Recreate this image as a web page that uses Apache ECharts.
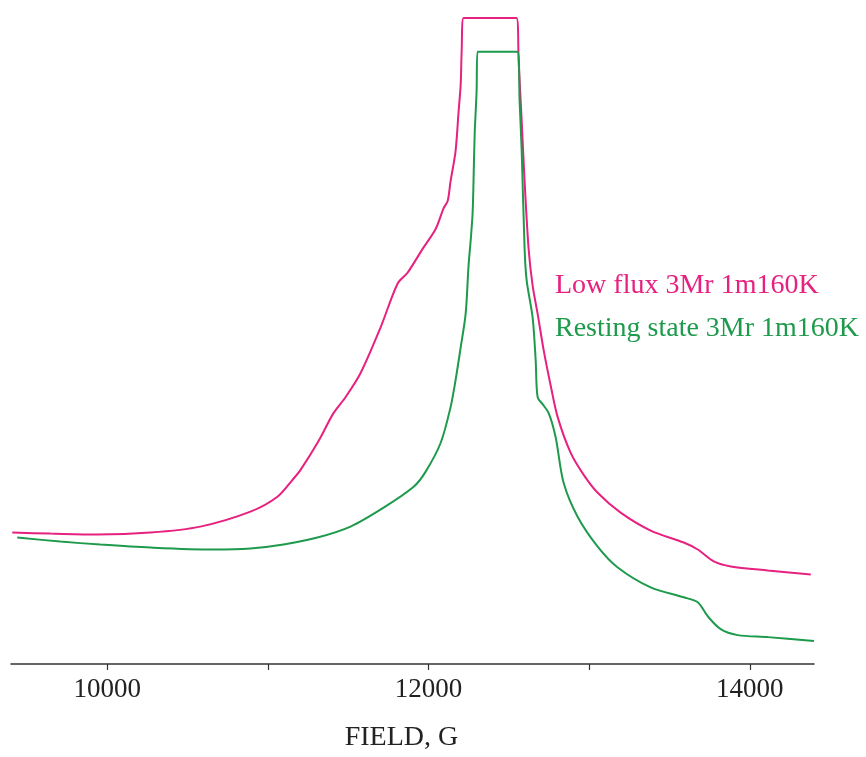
<!DOCTYPE html>
<html>
<head>
<meta charset="utf-8">
<script src="https://cdn.jsdelivr.net/npm/echarts@6/dist/echarts.min.js"></script>
<style>html,body{margin:0;padding:0;background:#fff}#c{width:866px;height:757px}</style>
</head>
<body>
<div id="c"></div>
<script>
// Field (G)
const lowFluxField = [9408,9645,9938,10268,10579,10891,11059,11153,11203,11315,11408,11483,11576,11701,11807,11869,11963,12044,12094,12119,12137,12168,12187,12200,12206,12218,12548,12561,12580,12598,12623,12648,12679,12717,12760,12804,12885,12966,13053,13196,13383,13589,13676,13776,13882,14112,14380];
// Intensity (arbitrary units)
const lowFluxSignal = [132,131,130,132,138,153,168,185,195,224,252,268,292,338,382,393,417,437,458,465,485,515,555,582,615,649,649,605,545,485,417,380,352,315,280,248,212,190,172,152,134,122,115,103,98,94,90];

const restingField = [9439,9707,9956,10268,10660,10891,11097,11308,11514,11720,11907,11981,12075,12137,12168,12200,12231,12249,12262,12274,12280,12287,12299,12305,12555,12567,12580,12598,12611,12648,12667,12679,12710,12748,12791,12841,12928,13053,13178,13383,13589,13676,13738,13819,13925,14112,14400];
const restingSignal = [127,123,120,117,115,116,120,127,138,157,178,193,222,258,285,318,352,400,425,452,485,532,575,615,615,565,515,417,385,348,305,268,261,252,228,182,148,118,97,77,67,62,48,35,29,27,23];

const seriesNames = ['Low flux 3Mr 1m160K', 'Resting state 3Mr 1m160K'];
const seriesColors = ['#E6217F', '#1E9A4C'];
const majorTicks = [10000, 11000, 12000, 13000, 14000];
const tickLabels = [10000, 12000, 14000];

const zip = (a, b) => a.map((v, i) => [v, b[i]]);

const chart = echarts.init(document.getElementById('c'), null, {renderer: 'canvas'});
chart.setOption({
  animation: false,
  backgroundColor: '#fff',
  grid: {left: 11, right: 52, top: 2, bottom: 90, containLabel: false},
  legend: {
    orient: 'vertical',
    left: 545,
    top: 267,
    icon: 'none',
    itemWidth: 0,
    itemGap: 15,
    selectedMode: false,
    textStyle: {fontFamily: 'Liberation Serif', fontSize: 28},
    data: seriesNames.map((n, i) => ({name: n, textStyle: {color: seriesColors[i]}}))
  },
  xAxis: {
    type: 'value',
    min: 9400,
    max: 14400,
    name: 'FIELD, G',
    nameLocation: 'middle',
    nameGap: 60,
    nameTextStyle: {fontFamily: 'Liberation Serif', fontSize: 28, color: '#222', padding: [0, 22, 0, 0]},
    axisLine: {show: true, lineStyle: {color: '#333', width: 1.5}},
    axisTick: {show: true, inside: false, length: 6, customValues: majorTicks, lineStyle: {color: '#333', width: 1.2}},
    axisLabel: {customValues: tickLabels, margin: 12, fontFamily: 'Liberation Serif', fontSize: 27, color: '#222',
                formatter: v => String(v)},
    splitLine: {show: false}
  },
  yAxis: {
    type: 'value', min: 0, max: 665, show: false, splitLine: {show: false}
  },
  series: [
    {name: seriesNames[0], type: 'line', data: zip(lowFluxField, lowFluxSignal), showSymbol: false, symbol: 'none',
     smooth: 0.3,
     lineStyle: {color: seriesColors[0], width: 2}, itemStyle: {color: seriesColors[0]}},
    {name: seriesNames[1], type: 'line', data: zip(restingField, restingSignal), showSymbol: false, symbol: 'none',
     smooth: 0.3,
     lineStyle: {color: seriesColors[1], width: 2}, itemStyle: {color: seriesColors[1]}}
  ]
});
</script>
</body>
</html>
